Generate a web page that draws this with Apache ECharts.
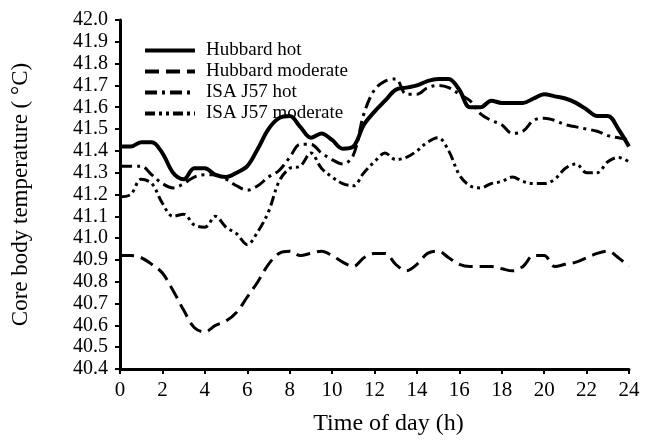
<!DOCTYPE html>
<html>
<head>
<meta charset="utf-8">
<script src="https://cdn.jsdelivr.net/npm/echarts@6/dist/echarts.min.js"></script>
<style>
  html, body { margin: 0; padding: 0; background: #fff; }
  #main { width: 648px; height: 441px; }
</style>
</head>
<body>
<div id="main"></div>
<script>
// time of day, every half hour
var hours = [];
for (var i = 0; i <= 48; i++) hours.push(i / 2);

var hubbardHot = [
  41.42, 41.42, 41.44, 41.44, 41.39, 41.30, 41.27, 41.32, 41.32, 41.29,
  41.28, 41.30, 41.33, 41.41, 41.50, 41.55, 41.56, 41.51, 41.46, 41.48,
  41.45, 41.41, 41.42, 41.52, 41.58, 41.63, 41.68, 41.69, 41.70, 41.72,
  41.73, 41.73, 41.68, 41.60, 41.60, 41.63, 41.62, 41.62, 41.62, 41.64,
  41.66, 41.65, 41.64, 41.62, 41.59, 41.56, 41.56, 41.50, 41.42
];
var hubbardModerate = [
  40.92, 40.92, 40.91, 40.88, 40.84, 40.76, 40.67, 40.59, 40.57, 40.60,
  40.62, 40.66, 40.73, 40.80, 40.88, 40.93, 40.94, 40.92, 40.93, 40.94,
  40.92, 40.89, 40.87, 40.91, 40.93, 40.93, 40.88, 40.85, 40.88, 40.93,
  40.94, 40.91, 40.88, 40.87, 40.87, 40.87, 40.86, 40.85, 40.87, 40.92,
  40.92, 40.87, 40.88, 40.89, 40.91, 40.93, 40.94, 40.91, 40.87
];
var isaHot = [
  41.33, 41.33, 41.33, 41.29, 41.25, 41.23, 41.25, 41.28, 41.29, 41.29,
  41.27, 41.24, 41.22, 41.24, 41.28, 41.31, 41.37, 41.43, 41.43, 41.39,
  41.36, 41.34, 41.38, 41.57, 41.68, 41.72, 41.73, 41.66, 41.66, 41.69,
  41.70, 41.69, 41.66, 41.63, 41.57, 41.54, 41.52, 41.48, 41.49, 41.54,
  41.55, 41.54, 41.52, 41.51, 41.50, 41.49, 41.47, 41.46, 41.45
];
var isaModerate = [
  41.19, 41.20, 41.27, 41.25, 41.16, 41.10, 41.11, 41.06, 41.05, 41.10,
  41.05, 41.02, 40.97, 41.03, 41.12, 41.26, 41.32, 41.33, 41.39, 41.32,
  41.28, 41.25, 41.24, 41.30, 41.35, 41.39, 41.36, 41.37, 41.40, 41.44,
  41.46, 41.40, 41.29, 41.24, 41.23, 41.25, 41.26, 41.28, 41.26, 41.25,
  41.25, 41.27, 41.32, 41.34, 41.30, 41.30, 41.35, 41.37, 41.35
];
var seriesNames = ["Hubbard hot", "Hubbard moderate", "ISA J57 hot", "ISA J57 moderate"];

function pairs(vals) {
  return hours.map(function (h, k) { return [h, vals[k]]; });
}

var font = "'Liberation Serif', 'DejaVu Serif', serif";

function makeLine(name, vals, width, dash) {
  return {
    name: name,
    type: "line",
    smooth: 0.35,
    symbol: "none",
    data: pairs(vals),
    lineStyle: { color: "#000", width: width, type: dash },
    itemStyle: { color: "#000" },
  };
}

var myChart = echarts.init(document.getElementById("main"));
myChart.setOption({
  animation: false,
  backgroundColor: "#fff",
  textStyle: { fontFamily: font, color: "#000" },
  grid: { left: 120, right: 19, top: 20, bottom: 67 },
  legend: {
    orient: "vertical",
    left: 138,
    top: 36,
    itemWidth: 50,
    itemHeight: 14,
    itemGap: 2,
    data: seriesNames,
    itemStyle: { opacity: 0, borderWidth: 0 },
    lineStyle: { width: 4 },
    textStyle: { fontFamily: font, fontSize: 19, lineHeight: 16, color: "#000", padding: [0, 0, 0, 6] },
  },
  xAxis: {
    type: "value",
    min: 0,
    max: 24,
    interval: 2,
    name: "Time of day (h)",
    nameLocation: "middle",
    nameGap: 43,
    nameTextStyle: { fontFamily: font, fontSize: 24, color: "#000", padding: [0, 0, 0, 28] },
    axisLine: { lineStyle: { color: "#000", width: 3 } },
    axisTick: { inside: false, length: 5, lineStyle: { color: "#000", width: 2 } },
    axisLabel: { fontFamily: font, fontSize: 21, color: "#000", margin: 11 },
    splitLine: { show: false },
  },
  yAxis: {
    type: "value",
    min: 40.4,
    max: 42.0,
    interval: 0.1,
    name: "Core body temperature ( \u00b0C)",
    nameLocation: "middle",
    nameGap: 88,
    nameRotate: 90,
    nameTextStyle: { fontFamily: font, fontSize: 23, color: "#000" },
    axisLine: { show: true, lineStyle: { color: "#000", width: 3 } },
    axisTick: { show: true, length: 5, lineStyle: { color: "#000", width: 2 } },
    axisLabel: {
      fontFamily: font,
      fontSize: 20,
      color: "#000",
      margin: 12,
      lineHeight: 17,
      formatter: function (v) { return v.toFixed(1); },
    },
    splitLine: { show: false },
  },
  series: [
    makeLine(seriesNames[0], hubbardHot, 4, "solid"),
    makeLine(seriesNames[1], hubbardModerate, 3, [14, 7]),
    makeLine(seriesNames[2], isaHot, 3, [12, 5, 3, 5]),
    makeLine(seriesNames[3], isaModerate, 3, [10, 4, 3, 4, 3, 4]),
  ],
});
</script>
</body>
</html>
